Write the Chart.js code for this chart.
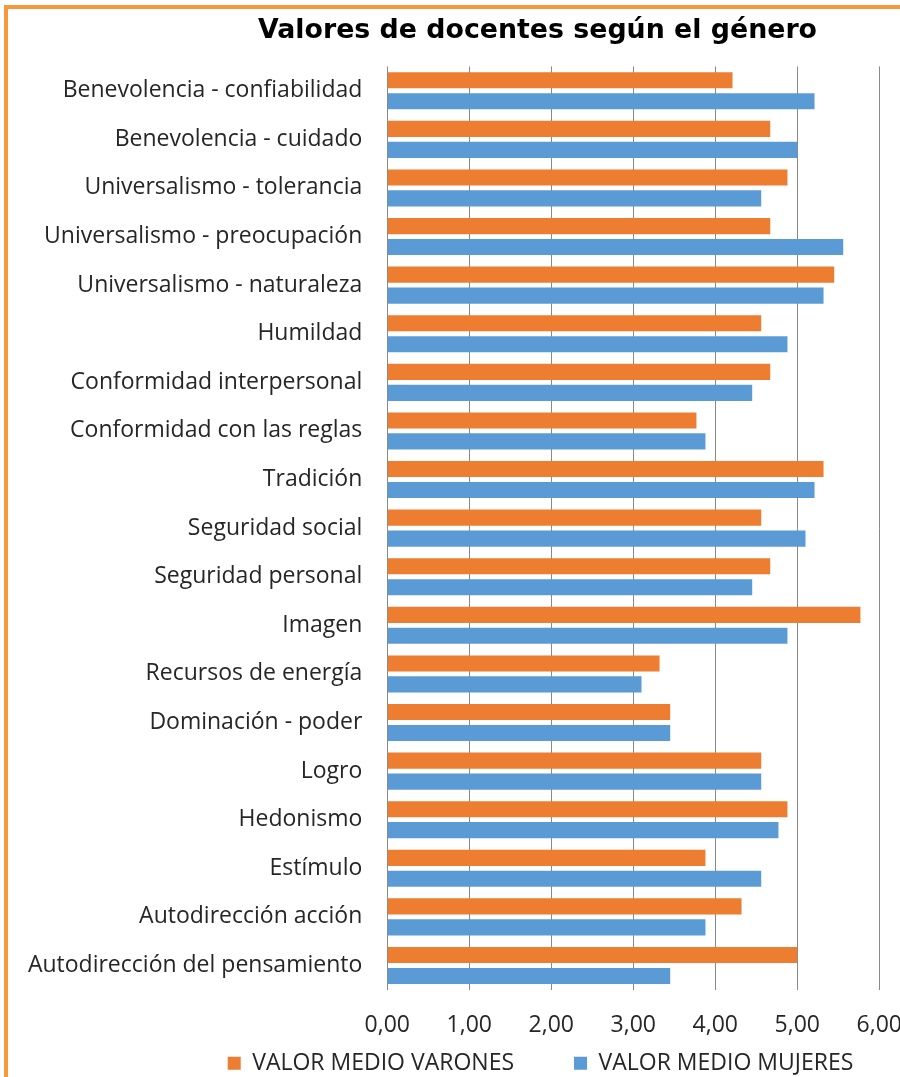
<!DOCTYPE html>
<html>
<head>
<meta charset="utf-8">
<script src="https://cdn.jsdelivr.net/npm/chart.js@4.4.1/dist/chart.umd.min.js"></script>
<style>
  html, body { margin: 0; padding: 0; background: #ffffff; overflow: hidden; width: 900px; height: 1077px; }
  #frame { position: absolute; left: 4px; top: 5px; width: 1200px; height: 1200px; border: 4px solid #F7993A; box-sizing: border-box; }
  #c { position: absolute; left: 0; top: 0; }
</style>
</head>
<body>
<div id="frame"></div>
<canvas id="c" width="1078" height="1077"></canvas>
<script>
const categories = [
  "Benevolencia - confiabilidad",
  "Benevolencia - cuidado",
  "Universalismo - tolerancia",
  "Universalismo - preocupación",
  "Universalismo - naturaleza",
  "Humildad",
  "Conformidad interpersonal",
  "Conformidad con las reglas",
  "Tradición",
  "Seguridad social",
  "Seguridad personal",
  "Imagen",
  "Recursos de energía",
  "Dominación - poder",
  "Logro",
  "Hedonismo",
  "Estímulo",
  "Autodirección acción",
  "Autodirección del pensamiento"
];
const varones = [4.21, 4.67, 4.88, 4.67, 5.45, 4.56, 4.67, 3.77, 5.32, 4.56, 4.67, 5.77, 3.32, 3.45, 4.56, 4.88, 3.88, 4.32, 5.00];
const mujeres = [5.21, 5.00, 4.56, 5.56, 5.32, 4.88, 4.45, 3.88, 5.21, 5.10, 4.45, 4.88, 3.10, 3.45, 4.56, 4.77, 4.56, 3.88, 3.45];
const seriesNames = ["VALOR MEDIO VARONES", "VALOR MEDIO MUJERES"];
const titleText = "Valores de docentes según el género";
const axisMin = 0, axisMax = 6, axisStep = 1;

const layoutFix = {
  id: 'layoutFix',
  beforeLayout(chart) {
    const lg = chart.legend;
    if (lg && !lg._patched) {
      const orig = lg.fit;
      lg.fit = function () { orig.call(this); this.height = 30; };
      lg._patched = true;
    }
  },
  afterLayout(chart) {
    const t = chart.titleBlock;
    if (t) { t.left = 0; t.right = 1075; t.width = 1075; }
    const lg = chart.legend;
    if (lg) { lg.left = 0; lg.right = 1081; lg.width = 1081; lg.top = 991.8; lg.bottom = 1077; lg.height = 85.2; }
  }
};

new Chart(document.getElementById('c'), {
  type: 'bar',
  data: {
    labels: categories,
    datasets: [
      { label: seriesNames[0], data: varones, backgroundColor: '#ED7D31', borderWidth: 0,
        categoryPercentage: 0.862, barPercentage: 0.77 },
      { label: seriesNames[1], data: mujeres, backgroundColor: '#5B9BD5', borderWidth: 0,
        categoryPercentage: 0.862, barPercentage: 0.77 }
    ]
  },
  options: {
    indexAxis: 'y',
    responsive: false,
    animation: false,
    devicePixelRatio: 1,
    layout: { padding: { left: 0, right: 198.7, top: 0, bottom: 7.2 } },
    scales: {
      x: {
        position: 'bottom',
        min: axisMin, max: axisMax,
        ticks: {
          stepSize: axisStep,
          padding: 22,
          color: '#262626',
          font: { family: 'Open Sans', size: 23 },
          maxRotation: 0,
          autoSkip: false,
          callback: (v) => Number(v).toFixed(2).replace('.', ',')
        },
        grid: { color: '#898989', lineWidth: 1, drawTicks: false },
        border: { display: false },
        afterFit(scale) { scale.height = 50; }
      },
      y: {
        ticks: {
          padding: 17,
          color: '#262626',
          font: { family: 'Open Sans', size: 23 }
        },
        grid: { display: false },
        border: { display: false },
        afterFit(scale) { scale.width = 387.3; }
      }
    },
    plugins: {
      title: {
        display: true,
        text: titleText,
        color: '#000000',
        font: { family: 'DejaVu Sans', size: 26.8, weight: 'bold' },
        padding: { top: 14.5, bottom: 19.8 }
      },
      legend: {
        position: 'bottom',
        labels: {
          boxWidth: 13,
          boxHeight: 13,
          padding: 60,
          color: '#262626',
          font: { family: 'Open Sans', size: 23 }
        }
      },
      tooltip: { enabled: false }
    }
  },
  plugins: [layoutFix]
});
</script>
</body>
</html>
